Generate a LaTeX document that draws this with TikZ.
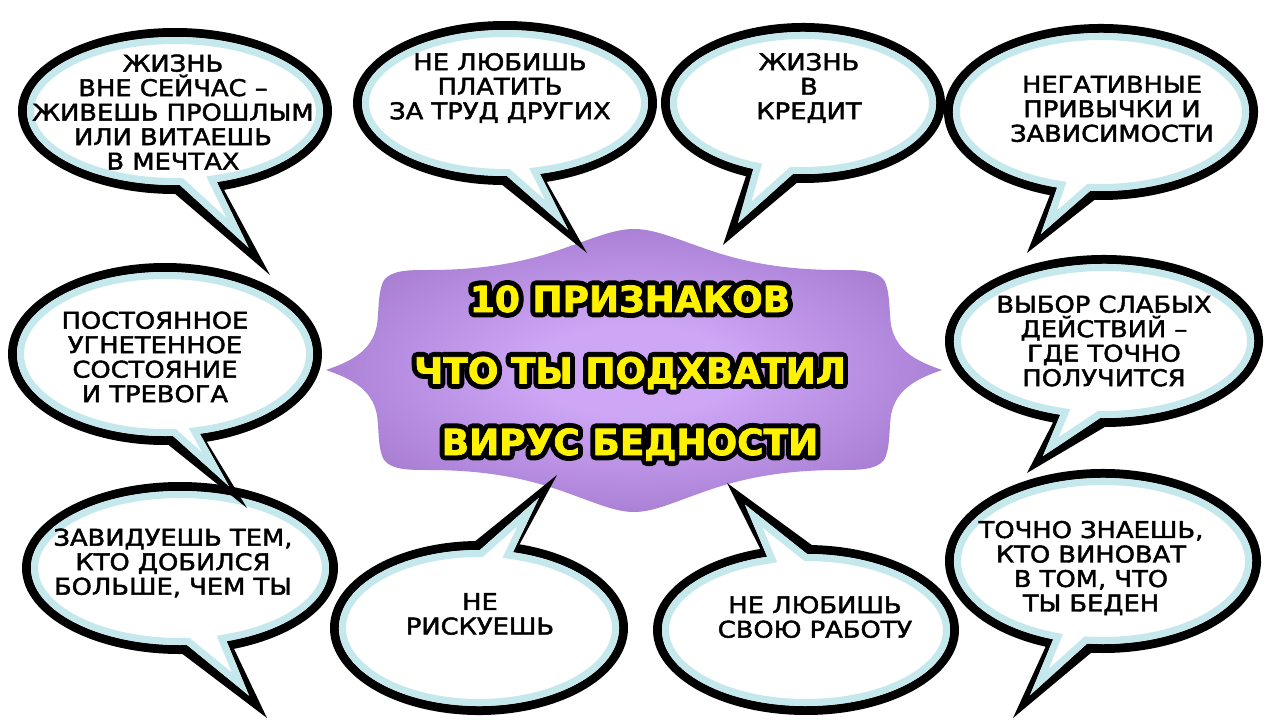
\documentclass[tikz,border=0pt]{standalone}
\usepackage{fontspec}
\newfontfamily\bubfont[FakeStretch=1.12,FakeBold=2]{DejaVu Sans}
\newfontfamily\titfont[FakeBold=2]{DejaVu Sans Bold}
\newfontfamily\titoutfont[FakeBold=30]{DejaVu Sans Bold}
\definecolor{bubblue}{RGB}{197,232,237}
\definecolor{purpin}{RGB}{206,166,246}
\definecolor{purpout}{RGB}{138,96,184}
\definecolor{tyellow}{RGB}{255,242,0}
\pgfdeclareradialshading{purpshade}{\pgfpoint{0bp}{0bp}}{color(0bp)=(purpin); color(8bp)=(purpin); color(40bp)=(purpout); color(75bp)=(purpout)}
\newcommand{\bshape}[9]{\path[#9] ({#1+#3*cos(#5)},{#2+#4*sin(#5)}) -- (#7,#8) -- ({#1+#3*cos(#6)},{#2+#4*sin(#6)}) arc[start angle=#6, end angle={#5+360}, x radius=#3, y radius=#4] -- cycle;}
\newcommand{\speech}[8]{%
 \pgfmathsetmacro\bmx{#1+#3*0.5*(cos(#5)+cos(#6))}%
 \pgfmathsetmacro\bmy{#2+#4*0.5*(sin(#5)+sin(#6))}%
 \pgfmathsetmacro\btx{#7+0.3*(\bmx-#7)}%
 \pgfmathsetmacro\bty{#8+0.3*(\bmy-#8)}%
 \pgfmathsetmacro\brx{#3+9}\pgfmathsetmacro\bry{#4+9}%
 \pgfmathsetmacro\bta{#5-1.8}\pgfmathsetmacro\btb{#6+1.8}%
 \bshape{#1}{#2}{\brx}{\bry}{\bta}{\btb}{#7}{#8}{fill=black}%
 \bshape{#1}{#2}{#3}{#4}{#5}{#6}{\btx}{\bty}{fill=white}%
 \begin{scope}\bshape{#1}{#2}{#3}{#4}{#5}{#6}{\btx}{\bty}{clip}%
 \bshape{#1}{#2}{#3}{#4}{#5}{#6}{\btx}{\bty}{draw=bubblue,line width=14}\end{scope}%
}
\tikzset{
 btxt/.style={font=\bubfont\fontsize{23}{24.5}\selectfont, align=center, text=black, inner sep=0pt},
 ttxt/.style={font=\titfont\fontsize{36}{71.5}\selectfont, align=center, inner sep=0pt, text=tyellow},
 touttxt/.style={font=\titoutfont\fontsize{36}{71.5}\selectfont, align=center, inner sep=0pt, text=black, line join=round, miter limit=1}
}
\begin{document}
\begin{tikzpicture}[x=1pt,y=-1pt]
\useasboundingbox (0,0) rectangle (1280,720);
\fill[white] (0,0) rectangle (1280,720);
% central frame
\begin{scope}[shift={(634,370)}]
\path[shading=purpshade] (-308,0)
 .. controls (-285,-8) and (-262,-18) .. (-257,-45)
 .. controls (-255,-60) and (-256,-80) .. (-250,-90)
 .. controls (-242,-100) and (-225,-100) .. (-205,-100)
 .. controls (-150,-100) and (-110,-108) .. (-75,-120)
 .. controls (-40,-132) and (-20,-141) .. (0,-141)
 .. controls (20,-141) and (40,-132) .. (75,-120)
 .. controls (110,-108) and (150,-100) .. (205,-100)
 .. controls (225,-100) and (242,-100) .. (250,-90)
 .. controls (256,-80) and (255,-60) .. (257,-45)
 .. controls (262,-18) and (285,-8) .. (308,0)
 .. controls (285,8) and (262,18) .. (257,45)
 .. controls (255,60) and (256,80) .. (250,90)
 .. controls (242,100) and (225,100) .. (205,100)
 .. controls (150,100) and (110,108) .. (75,120)
 .. controls (40,132) and (20,142) .. (0,142)
 .. controls (-20,142) and (-40,132) .. (-75,120)
 .. controls (-110,108) and (-150,100) .. (-205,100)
 .. controls (-225,100) and (-242,100) .. (-250,90)
 .. controls (-256,80) and (-255,60) .. (-257,45)
 .. controls (-262,18) and (-285,8) .. (-308,0) -- cycle;
\end{scope}
% bubbles
\speech{180}{568}{149}{77}{71.8}{87.3}{267}{718}
\speech{479}{628}{140}{78}{-89.6}{-76}{557}{475}
\speech{806}{630}{144}{76}{-105.6}{-89.6}{727}{483}
\speech{1103}{561}{149}{83}{96.1}{109.5}{1013}{718}
\speech{165}{354}{148}{82}{76.4}{86.9}{247}{508}
\speech{1104}{341}{150}{77}{91.5}{106.9}{1027}{473}
\speech{175}{111}{148}{74}{73.6}{88.1}{270}{275}
\speech{505}{103}{143}{73}{75.9}{89.2}{587}{253}
\speech{803}{103}{133}{71}{94.3}{111.9}{723}{245}
\speech{1101}{112}{148}{79}{94.2}{107.2}{1027}{253}
% bubble texts
\node[btxt] (b1) at (173,112) {ЖИЗНЬ\\ВНЕ СЕЙЧАС –\\ЖИВЕШЬ ПРОШЛЫМ\\ИЛИ ВИТАЕШЬ\\В МЕЧТАХ};
\node[btxt] (b2) at (500,88) {НЕ ЛЮБИШЬ\\ПЛАТИТЬ\\ЗА ТРУД ДРУГИХ};
\node[btxt] (b3) at (809,88) {ЖИЗНЬ\\В\\КРЕДИТ};
\node[btxt] (b4) at (1112,109) {НЕГАТИВНЫЕ\\ПРИВЫЧКИ И\\ЗАВИСИМОСТИ};
\node[btxt] (b5) at (155,357) {ПОСТОЯННОЕ\\УГНЕТЕННОЕ\\СОСТОЯНИЕ\\И ТРЕВОГА};
\node[btxt] (b6) at (1104,341) {ВЫБОР СЛАБЫХ\\ДЕЙСТВИЙ –\\ГДЕ ТОЧНО\\ПОЛУЧИТСЯ};
\node[btxt] (b7) at (173,563) {ЗАВИДУЕШЬ ТЕМ,\\КТО ДОБИЛСЯ\\БОЛЬШЕ, ЧЕМ ТЫ};
\node[btxt] (b8) at (480,614) {НЕ\\РИСКУЕШЬ};
\node[btxt] (b9) at (815,617) {НЕ ЛЮБИШЬ\\СВОЮ РАБОТУ};
\node[btxt] (b10) at (1091,568) {ТОЧНО ЗНАЕШЬ,\\КТО ВИНОВАТ\\В ТОМ, ЧТО\\ТЫ БЕДЕН};
% title with outline
\node[touttxt] (tout) at (630,373) {10 ПРИЗНАКОВ\\ЧТО ТЫ ПОДХВАТИЛ\\ВИРУС БЕДНОСТИ};
\node[ttxt] (title) at (630,373) {10 ПРИЗНАКОВ\\ЧТО ТЫ ПОДХВАТИЛ\\ВИРУС БЕДНОСТИ};
\end{tikzpicture}
\end{document}
